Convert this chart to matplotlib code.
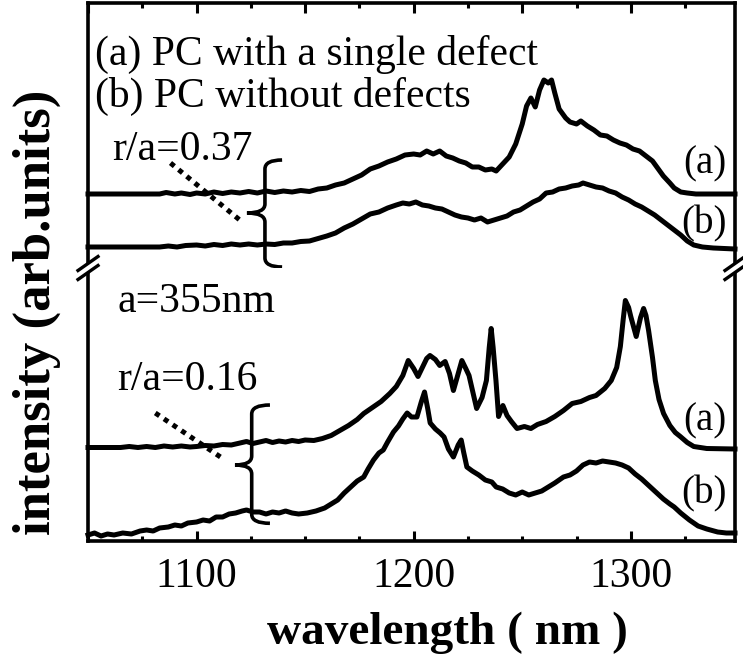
import matplotlib.pyplot as plt
from matplotlib.path import Path
from matplotlib.patches import PathPatch, Polygon
from matplotlib.ticker import MultipleLocator
from matplotlib.transforms import Affine2D

plt.rcParams['font.family'] = ['Liberation Serif', 'DejaVu Serif']

# emission spectra, (wavelength nm, intensity above the trace baseline)
# r/a = 0.37, (a) single defect
SPEC_037_A = [
    (1050, 0), (1083, 0), (1086, 1.5), (1090, 0), (1093, 1), (1097, -0.5), (1100, 1),
    (1104, 0), (1108, 2), (1112, 0.5), (1116, 2), (1120, 1), (1124, 2.5), (1128, 1),
    (1132, 3), (1136, 1.5), (1140, 3), (1144, 2), (1148, 3.5), (1152, 2.5), (1156, 5),
    (1160, 6), (1164, 9), (1168, 11), (1172, 15), (1176, 19), (1180, 25), (1184, 28),
    (1188, 32), (1192, 35), (1196, 39), (1200, 40), (1203, 39), (1206, 43), (1209, 40),
    (1212, 43), (1215, 38), (1218, 36), (1221, 33), (1224, 31), (1227, 27), (1230, 27),
    (1233, 24), (1236, 25), (1238, 23), (1241, 30), (1244, 37), (1247, 50), (1250, 70),
    (1252, 88), (1254, 96), (1256, 87), (1258, 104), (1260, 114), (1262, 111),
    (1263.5, 114), (1265, 101), (1267, 85), (1270, 76), (1272, 72), (1275, 70),
    (1277, 73), (1280, 68), (1283, 64), (1286, 59), (1289, 58), (1292, 54), (1295, 51),
    (1298, 49), (1301, 45), (1304, 43), (1307, 38), (1310, 33), (1312, 27), (1315, 18),
    (1318, 11), (1320, 6), (1323, 2), (1326, 1), (1330, 0), (1348, 0),
]
# r/a = 0.37, (b) no defects
SPEC_037_B = [
    (1050, 0), (1083, 0), (1087, 1), (1091, 0), (1095, 1.5), (1100, 2), (1104, 1),
    (1108, 2.5), (1112, 1.5), (1116, 3), (1120, 2), (1124, 3), (1128, 2), (1132, 3),
    (1136, 2.5), (1140, 4), (1144, 4), (1148, 5.5), (1152, 6), (1156, 8.5), (1160, 11),
    (1164, 14), (1168, 19), (1172, 23), (1176, 28), (1180, 33), (1184, 35), (1188, 39),
    (1192, 42), (1195, 44), (1198, 43), (1201, 45), (1204, 42), (1207, 41), (1210, 39),
    (1213, 38), (1216, 35), (1219, 32), (1222, 30), (1225, 29), (1228, 27), (1231, 29),
    (1234, 25), (1237, 27), (1240, 29), (1243, 31), (1246, 35), (1249, 37), (1252, 41),
    (1255, 45), (1258, 48), (1261, 54), (1264, 55), (1267, 58), (1270, 59), (1273, 61),
    (1276, 62), (1278, 64), (1281, 62), (1284, 60), (1287, 59), (1290, 56), (1293, 54),
    (1296, 50), (1299, 47), (1302, 43), (1305, 40), (1308, 36), (1311, 32), (1314, 27),
    (1317, 22), (1320, 17), (1323, 12), (1326, 6), (1329, 2), (1333, 0), (1338, -1),
    (1348, -2),
]
# r/a = 0.16, (a) single defect
SPEC_016_A = [
    (1050, 0), (1065, 0), (1069, 1), (1073, 0), (1077, 1), (1081, 0), (1085, 1.5),
    (1089, 0.5), (1093, 1.5), (1097, 0.5), (1100, 1), (1104, 2), (1108, 1.5), (1112, 3),
    (1116, 2.5), (1120, 4.5), (1123, 6), (1126, 4), (1129, 5.5), (1132, 7), (1135, 5),
    (1138, 6.5), (1141, 5.5), (1144, 7), (1147, 6), (1150, 7.5), (1154, 7), (1158, 9),
    (1162, 12), (1166, 17), (1170, 22), (1174, 28), (1177, 34), (1181, 40), (1185, 46),
    (1189, 54), (1192, 61), (1195, 72), (1197.5, 87), (1200, 79), (1202, 71), (1204, 80),
    (1206, 89), (1207.5, 92), (1210, 88), (1212, 82), (1214.5, 86), (1216.5, 74),
    (1218.3, 57), (1220, 70), (1222.2, 87), (1224, 79), (1225.5, 72), (1227.3, 55),
    (1229, 39), (1231.5, 50), (1233.5, 67), (1234.8, 100), (1235.7, 119), (1236.6, 100),
    (1237.9, 67), (1239.1, 31), (1241.1, 42), (1243, 32), (1245, 26), (1247.6, 19),
    (1251, 21), (1254, 19), (1257, 23), (1261, 26), (1265, 31), (1269, 37), (1273, 44),
    (1277, 46), (1281, 50), (1284, 52), (1288, 59), (1291, 67), (1293.5, 80),
    (1295.2, 101), (1296.5, 128), (1297.5, 147), (1299, 140), (1300, 131), (1302.5, 111),
    (1304.5, 130), (1305.9, 139), (1307, 132), (1308.2, 117), (1310, 90), (1311.3, 67),
    (1313, 48), (1315.1, 34), (1318, 22), (1320.5, 15), (1322.8, 11), (1326, 5),
    (1329, 1), (1335, -1), (1348, -1.5),
]
# r/a = 0.16, (b) no defects
SPEC_016_B = [
    (1050, 2), (1053, 4), (1056, 1), (1059, 3), (1062, 2), (1066, 4), (1070, 3), (1074, 6),
    (1077, 7), (1080, 6), (1083, 9), (1087, 10), (1090, 12), (1093, 11), (1096, 14),
    (1100, 15), (1103, 17), (1106, 16), (1109, 20), (1112, 20), (1115, 23), (1118, 24),
    (1121, 26), (1123, 27), (1126, 25), (1129, 25), (1132, 23), (1135, 25), (1138, 24),
    (1141, 26), (1144, 24), (1147, 23), (1151, 24), (1155, 26), (1159, 29), (1162, 33),
    (1165, 37), (1168, 44), (1171, 50), (1174, 56), (1177, 60), (1179, 68), (1181.5, 77),
    (1184, 84), (1186, 87), (1188, 95), (1190.7, 105), (1193, 111), (1195, 118),
    (1197, 124), (1199, 120), (1201.5, 120), (1203.5, 135), (1205, 145), (1206.5, 128),
    (1207.6, 114), (1210, 108), (1212.2, 104), (1214, 100), (1216, 88), (1218.3, 80),
    (1220.5, 92), (1221.9, 97), (1223, 85), (1224.5, 70), (1227, 66), (1230, 62),
    (1233, 57), (1236, 55), (1238, 50), (1241, 48), (1244, 44), (1247, 42), (1250, 45),
    (1253, 42), (1256, 44), (1259, 46), (1262, 50), (1265, 54), (1269, 60), (1272, 62),
    (1275, 66), (1278, 72), (1281, 75), (1284, 74), (1287, 76), (1290, 75), (1293, 74),
    (1296, 72), (1299, 69), (1302, 63), (1305, 58), (1309, 50), (1312, 44), (1315, 38),
    (1318, 33), (1320, 30), (1323, 24), (1327, 17), (1331, 11), (1335, 8), (1340, 5),
    (1344, 4), (1348, 4),
]

XTICKS = [1100, 1200, 1300]
LEGEND_LINES = ["(a) PC with a single defect", "(b) PC without defects"]

W, H = 743, 659
LW = 3.6
FS = 30


def plot_spec(ax, spec, offset):
    wl = [p[0] for p in spec]
    val = [p[1] + offset for p in spec]
    ax.plot(wl, val, color="black", lw=LW, solid_joinstyle="round", clip_on=False)


def brace(ax, x_stem, x_tip, x_end, y_top, y_mid, y_bot, r=9):
    verts = [
        (x_end, y_top), (x_stem, y_top), (x_stem, y_top - r),
        (x_stem, y_mid + r),
        (x_stem, y_mid), (x_tip, y_mid),
        (x_stem, y_mid), (x_stem, y_mid - r),
        (x_stem, y_bot + r),
        (x_stem, y_bot), (x_end, y_bot),
    ]
    codes = [Path.MOVETO, Path.CURVE3, Path.CURVE3, Path.LINETO,
             Path.CURVE3, Path.CURVE3, Path.CURVE3, Path.CURVE3,
             Path.LINETO, Path.CURVE3, Path.CURVE3]
    ax.add_patch(PathPatch(Path(verts, codes), fill=False, lw=2.6,
                           color="black", clip_on=False))


def style_axis(ax, side):
    ax.set_xlim(1050, 1348)
    ax.set_yticks([])
    ax.xaxis.set_major_locator(MultipleLocator(50))
    ax.xaxis.set_minor_locator(MultipleLocator(25))
    for s in ax.spines.values():
        s.set_linewidth(2.6)
    other = "bottom" if side == "top" else "top"
    ax.spines[other].set_visible(False)
    ax.tick_params(axis="x", which="both", direction="in", width=2.2,
                   top=(side == "top"), bottom=(side == "bottom"),
                   labeltop=False, labelbottom=(side == "bottom"))
    ax.tick_params(axis="x", which="major", length=7)
    ax.tick_params(axis="x", which="minor", length=3.5)


fig = plt.figure(figsize=(W / 100, H / 100), dpi=100)
ax_top = fig.add_axes([88 / W, (H - 268) / H, 647 / W, 265 / H])
ax_bot = fig.add_axes([88 / W, (H - 541) / H, 647 / W, 273 / H])
ax_top.set_ylim(0, 265)
ax_bot.set_ylim(0, 273)
style_axis(ax_top, "top")
style_axis(ax_bot, "bottom")

# upper panel: r/a = 0.37
plot_spec(ax_top, SPEC_037_A, 74)
plot_spec(ax_top, SPEC_037_B, 21)
for i, line in enumerate(LEGEND_LINES):
    ax_top.text(1053, 203 - 42 * i, line, fontsize=FS, ha="left", va="baseline")
ax_top.text(1061, 108, "r/a=0.37", fontsize=FS, ha="left", va="baseline")
ax_top.plot([1088, 1121], [105, 46], color="black", lw=3.6,
            linestyle=(0, (1, 1.1)), dash_capstyle="butt")
brace(ax_top, 1131.5, 1123.2, 1139.4, 108, 55, 1)
ax_top.text(1344, 95, "(a)", fontsize=28, ha="right", va="baseline")
ax_top.text(1344, 35, "(b)", fontsize=28, ha="right", va="baseline")

# lower panel: r/a = 0.16
plot_spec(ax_bot, SPEC_016_A, 93.5)
plot_spec(ax_bot, SPEC_016_B, 4)
ax_bot.text(1063.4, 229, "a=355nm", fontsize=FS, ha="left", va="baseline")
ax_bot.text(1063.4, 151, "r/a=0.16", fontsize=FS, ha="left", va="baseline")
ax_bot.plot([1081, 1111.7], [128, 83], color="black", lw=3.6,
            linestyle=(0, (1, 1.1)), dash_capstyle="butt")
brace(ax_bot, 1125.4, 1117.7, 1133.8, 136, 76, 17.7)
ax_bot.text(1344, 111, "(a)", fontsize=28, ha="right", va="baseline")
ax_bot.text(1344, 38, "(b)", fontsize=28, ha="right", va="baseline")

ax_bot.set_xticks(XTICKS)
ax_bot.set_xticklabels([str(t) for t in XTICKS], fontsize=30)
ax_bot.tick_params(axis="x", which="major", pad=12)
ax_bot.set_xlabel("wavelength ( nm )", fontsize=34, fontweight="bold")
ax_bot.xaxis.set_label_coords((447 - 88) / 647, -0.26)

# pixel coordinates measured from the top-left corner of the figure
px = Affine2D().scale(1 / W, -1 / H).translate(0, 1) + fig.transFigure
fig.text(37, 312, "intensity (arb.units)", transform=px, fontsize=38,
         fontweight="bold", rotation=90, ha="center", va="center")

# axis break marks on both spines
for xc in (88, 735):
    dx, dy, gap = 10, 7, 4.5
    fig.add_artist(Polygon([(xc - dx, 268 + dy - gap), (xc + dx, 268 - dy - gap),
                            (xc + dx, 268 - dy + gap), (xc - dx, 268 + dy + gap)],
                           closed=True, facecolor="white", edgecolor="none",
                           transform=px))
    for s in (-gap, gap):
        fig.add_artist(plt.Line2D([xc - dx, xc + dx], [268 + dy + s, 268 - dy + s],
                                  color="black", lw=2.4, transform=px))

fig.savefig("out.png", dpi=100)
